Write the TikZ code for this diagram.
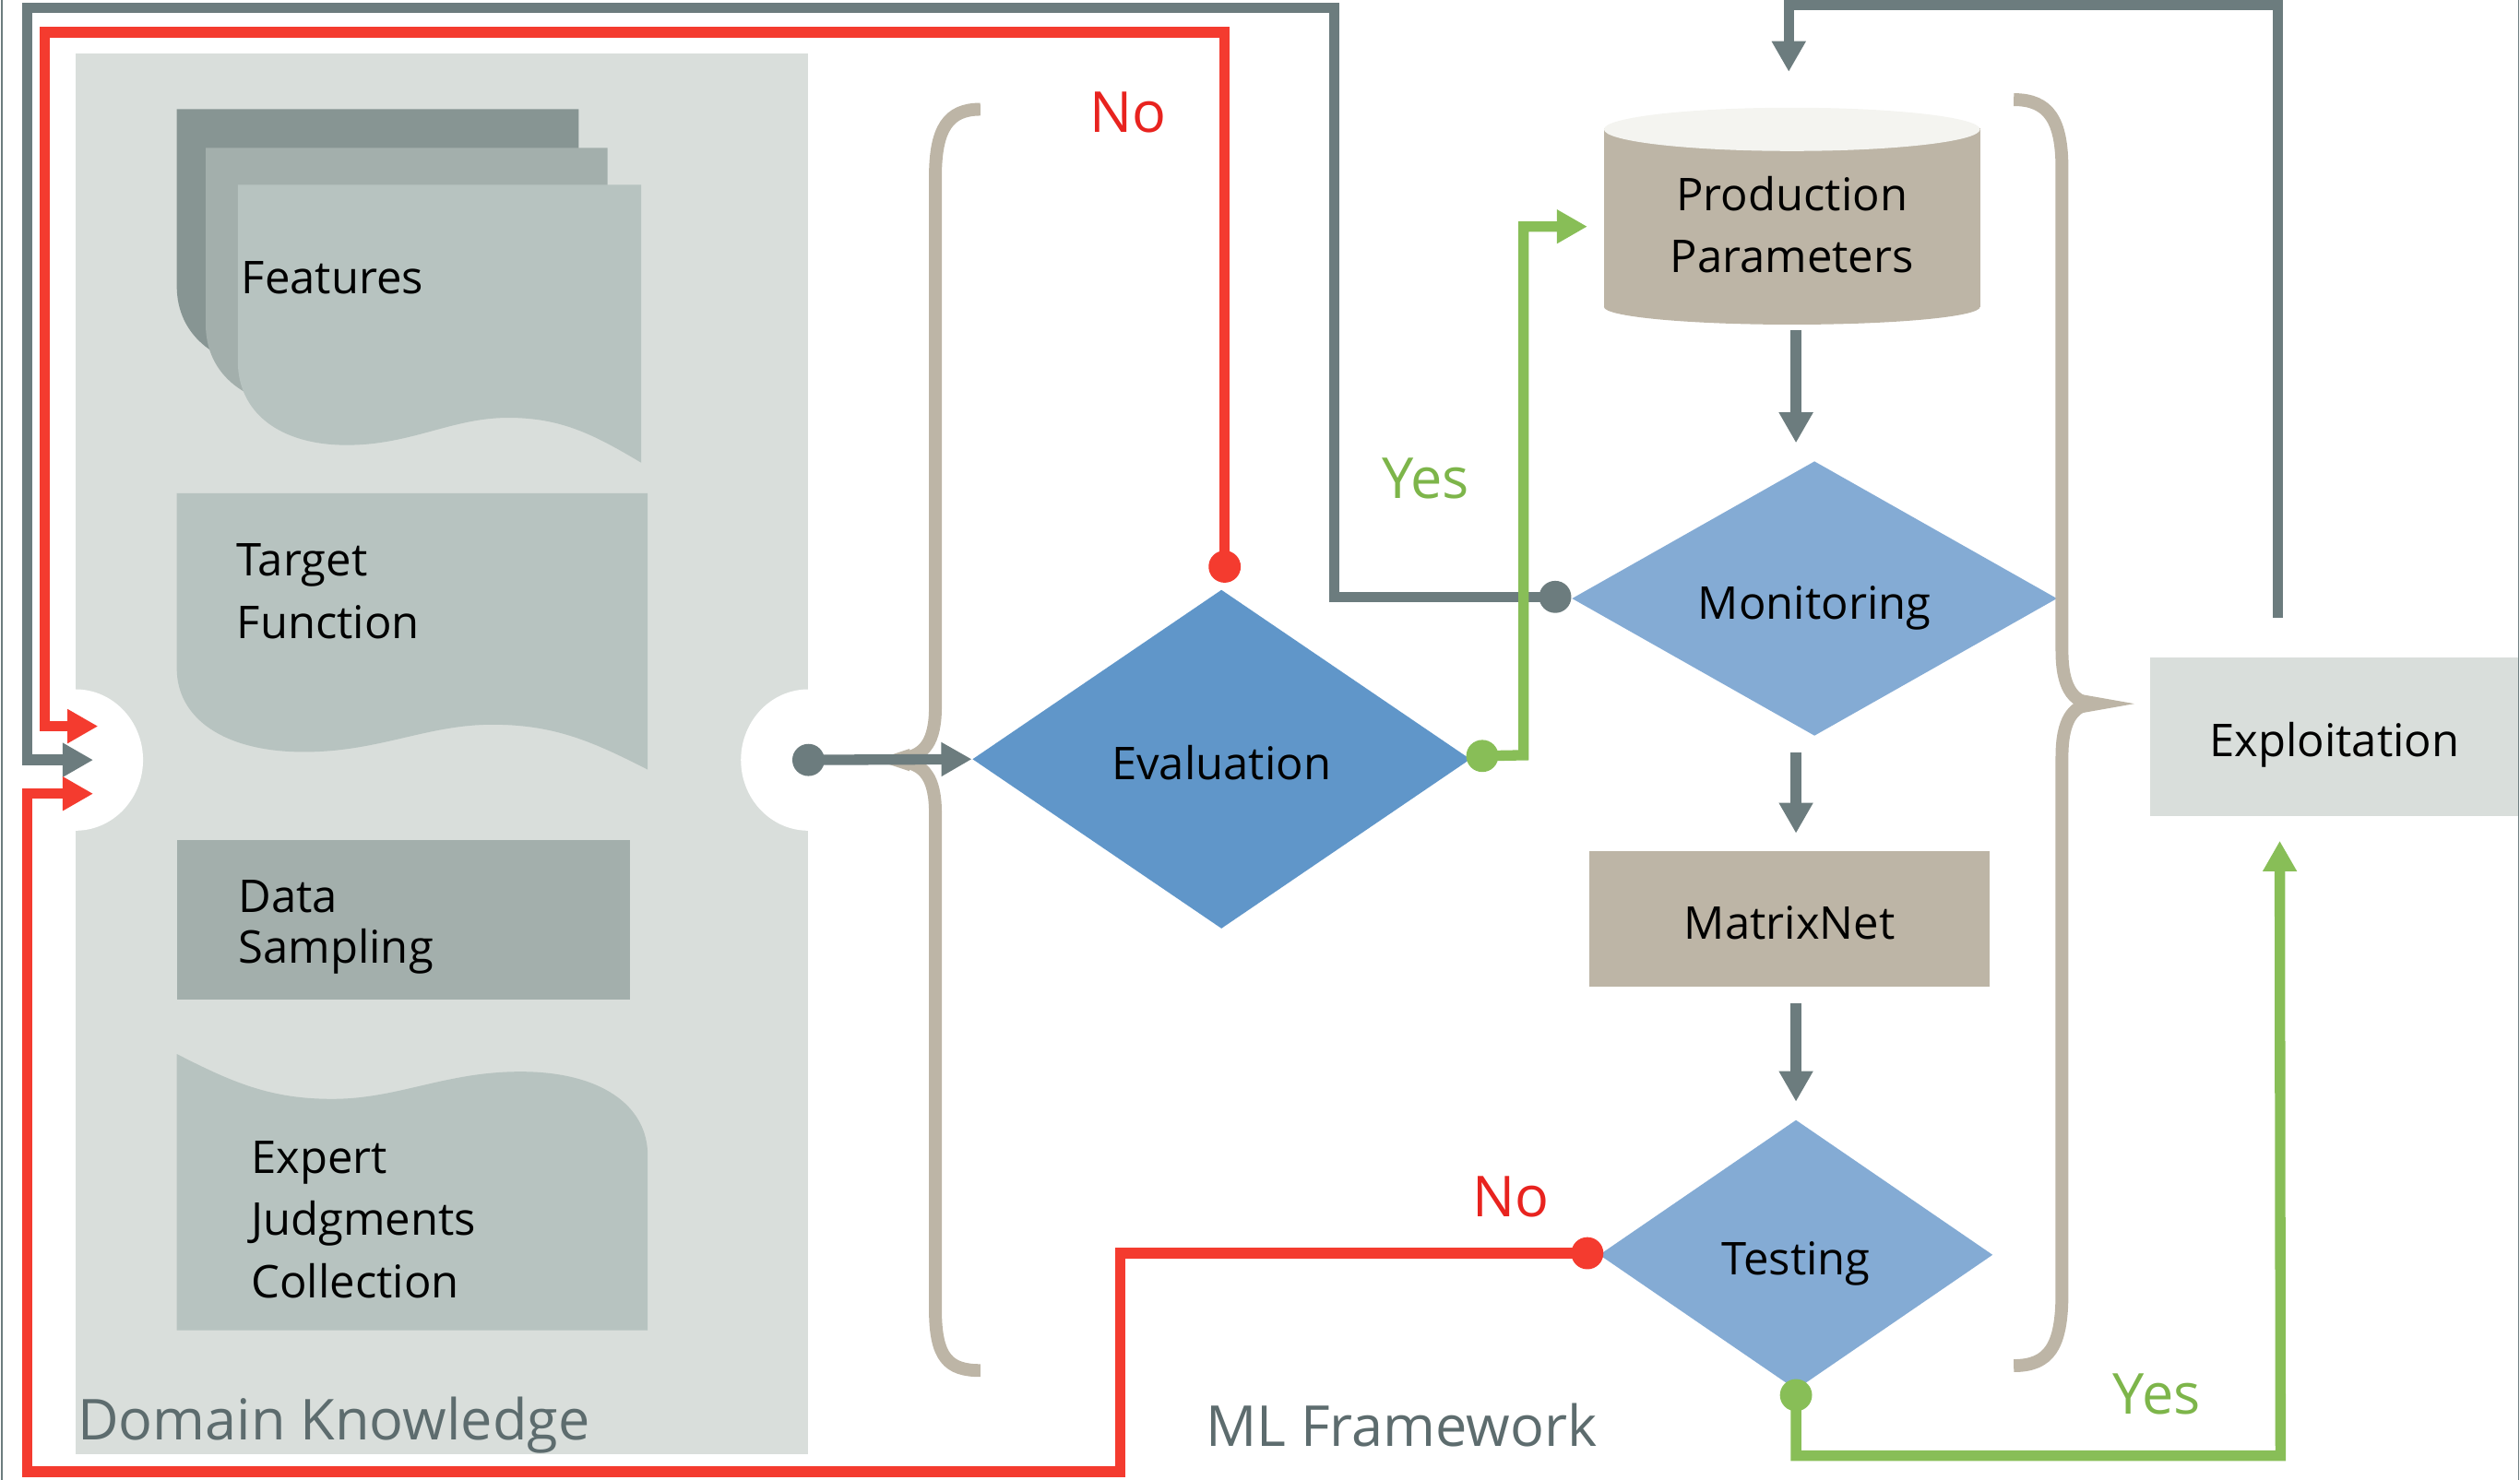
\documentclass[tikz,border=0pt]{standalone}
\usepackage{fontspec}
\setmainfont{Open Sans}
\usetikzlibrary{shapes.geometric,arrows.meta,calc}

\definecolor{panelgray}{HTML}{D9DEDB}
\definecolor{sheetlight}{HTML}{B7C3C0}
\definecolor{sheetmid}{HTML}{A3AFAC}
\definecolor{sheetdark}{HTML}{879593}
\definecolor{slate}{HTML}{6C7C7E}
\definecolor{alarmred}{HTML}{F43B2F}
\definecolor{okgreen}{HTML}{88BE57}
\definecolor{sand}{HTML}{BDB5A6}
\definecolor{sandtop}{HTML}{F4F4F0}
\definecolor{evalblue}{HTML}{6096C9}
\definecolor{skyblue}{HTML}{84ABD4}
\definecolor{labelgray}{HTML}{5D6C6E}
\definecolor{nored}{HTML}{E8231F}
\definecolor{yesgreen}{HTML}{7DB54A}

\def\boxfont{\fontsize{16}{22}\selectfont}
\def\tagfont{\fontsize{20}{24}\selectfont}

\tikzstyle{decision}=[diamond, inner sep=0pt, font=\boxfont, text height=14.4pt, text depth=0pt]
\tikzstyle{block}=[rectangle, inner sep=0pt, font=\boxfont, align=center]
\tikzstyle{oneline}=[block, text height=14.4pt, text depth=0pt]
\tikzstyle{doctext}=[anchor=west, inner sep=0pt, font=\boxfont, align=left]
\tikzstyle{tag}=[inner sep=0pt, font=\tagfont]
\tikzstyle{wire}=[draw, line width=0.13cm]
\tikzstyle{flowarrow}=[wire, -{Triangle[width=0.4cm,length=0.38cm]}]
\tikzstyle{stepdown}=[flowarrow, draw=slate, shorten <=0.2cm, shorten >=0.22cm]
\tikzstyle{bracket}=[draw=sand, line width=0.16cm]

% sheet with a wavy lower edge: fill, left, top, width, height
\newcommand{\wavedoc}[5]{%
  \fill[#1, shift={(#2,#3+#5)}, xscale=#4]
    (0,-#5) -- (1,-#5) -- (1,0)
    .. controls (0.88,-18) and (0.8,-28) .. (0.67,-28)
    .. controls (0.53,-28) and (0.43,-11) .. (0.27,-11)
    .. controls (0.1,-11) and (0,-32) .. (0,-63) -- cycle;}

\def\downflow{prod/mon, mon/mtx, mtx/test}

\begin{document}
\begin{tikzpicture}[x=0.02cm, y=-0.02cm]
  \useasboundingbox (0,0) rectangle (1568,921);

  % Domain knowledge panel and its notches
  \fill[panelgray] (47,33) rectangle (503,905);
  \foreach \cx in {47, 503}
    \fill[white] (\cx,473) ellipse [x radius=42, y radius=44];

  % The sheets
  \wavedoc{sheetdark}{110}{68}{250}{173}
  \wavedoc{sheetmid}{128}{92}{250}{173}
  \wavedoc{sheetlight}{148}{115}{251}{173}
  \wavedoc{sheetlight}{110}{307}{293}{172}
  \begin{scope}[rotate around={180:(256.5,742)}]
    \wavedoc{sheetlight}{110}{656}{293}{172}
  \end{scope}
  \fill[sheetmid] (110,523) rectangle (392,622);

  \node[doctext] (feat) at (150,173) {Features};
  \node[doctext] (target) at (147,368) {Target\\Function};
  \node[doctext, font=\fontsize{16}{18}\selectfont] (sampling) at (148,577) {Data\\Sampling};
  \node[doctext] (expert) at (156,759) {Expert\\Judgments\\Collection};
  \node[tag, anchor=west, text=labelgray] (dk) at (48,887) {Domain Knowledge};
  \node[tag, text=labelgray] (mlf) at (872,887) {ML Framework};

  % Production cylinder
  \fill[sand] (998,80) rectangle (1232,191);
  \fill[sand] (1115,191) ellipse [x radius=117, y radius=11];
  \fill[sandtop] (1115,80.5) ellipse [x radius=117, y radius=13.5];
  \node[block, minimum width=4.68cm, minimum height=2.2cm] (prod) at (1115,140) {Production\\Parameters};

  % Decisions and boxes
  \node[decision, fill=evalblue, minimum width=6.2cm, minimum height=4.22cm] (eval) at (760,472.5) {Evaluation};
  \node[decision, fill=skyblue, minimum width=6.04cm, minimum height=3.42cm] (mon) at (1129,372.5) {Monitoring};
  \node[oneline, fill=sand, minimum width=4.98cm, minimum height=1.68cm] (mtx) at (1113.5,572) {MatrixNet};
  \node[decision, fill=skyblue, minimum width=4.9cm, minimum height=3.36cm] (test) at (1117.5,781) {Testing};
  \node[oneline, fill=panelgray, minimum width=4.58cm, minimum height=1.98cm] (expl) at (1452.5,458.5) {Exploitation};

  % Braces
  \path[bracket] (610,68) .. controls (590,68) and (582,80) .. (582,110) -- (582,440)
    .. controls (582,462) and (575,470) .. (562,472);
  \path[bracket] (562,474) .. controls (575,476) and (582,484) .. (582,506) -- (582,815)
    .. controls (582,845) and (590,853) .. (610,853);
  \fill[sand] (566,466) -- (545,473) -- (566,480) -- cycle;
  \path[bracket] (1253,62) .. controls (1275,62) and (1283,75) .. (1283,105) -- (1283,405)
    .. controls (1283,428) and (1290,436) .. (1300,438);
  \path[bracket] (1300,438) .. controls (1290,440) and (1283,448) .. (1283,471) -- (1283,805)
    .. controls (1283,838) and (1275,850) .. (1253,850);
  \fill[sand] (1294,432) -- (1328,438) -- (1294,444) -- cycle;

  % End points of the loops
  \coordinate (evalNo) at ($(eval.north)+(2,-14)$);
  \coordinate (evalYes) at ($(eval.east)+(7,-2)$);
  \coordinate (monOut) at ($(mon.west)+(-10,-1)$);
  \coordinate (testNo) at ($(test.west)+(-7,-1)$);
  \coordinate (testYes) at ($(test.south)+(0,3)$);
  \coordinate (dkOut) at (503,473);
  \coordinate (inA) at (61,452);
  \coordinate (inB) at (58,473);
  \coordinate (inC) at (58,494);

  % Connect the boxes
  \foreach \src/\dst in \downflow
    \path[stepdown] (\src.south -| test.north) -- (\dst.north -| test.north);
  \path[flowarrow, draw=slate] (dkOut) -- (eval.west);

  % The loops
  \path[flowarrow, draw=alarmred] (evalNo) |- (28,20) |- (inA);
  \path[flowarrow, draw=slate] (monOut) -| (830,5) -- (17,5) |- (inB);
  \path[flowarrow, draw=alarmred] (testNo) -- (697,780) |- (17,916) |- (inC);
  \path[flowarrow, draw=okgreen] (evalYes) -- (948,470) |- ($(prod.west)+(-10,1)$);
  \path[flowarrow, draw=okgreen] (testYes) |- (1419,906) -- ($(expl.south)+(-34,15)$);
  \path[flowarrow, draw=slate] ($(expl.north)+(-35,-24)$) |- (1113,3) -- ($(prod.north)+(-2,-40)$);

  \foreach \pt/\col in {evalNo/alarmred, testNo/alarmred, evalYes/okgreen, testYes/okgreen, monOut/slate, dkOut/slate}
    \fill[\col] (\pt) circle [radius=10];

  % Answers
  \node[tag, text=nored] (no1) at (702,70) {No};
  \node[tag, text=yesgreen] (yes1) at (887,298) {Yes};
  \node[tag, text=nored] (no2) at (940,745) {No};
  \node[tag, text=yesgreen] (yes2) at (1342,868) {Yes};

  % Frame
  \draw[slate, line width=0.5pt] (1,0) -- (1,921);
  \draw[slate, line width=0.5pt] (1567,0) -- (1567,921);
\end{tikzpicture}
\end{document}
